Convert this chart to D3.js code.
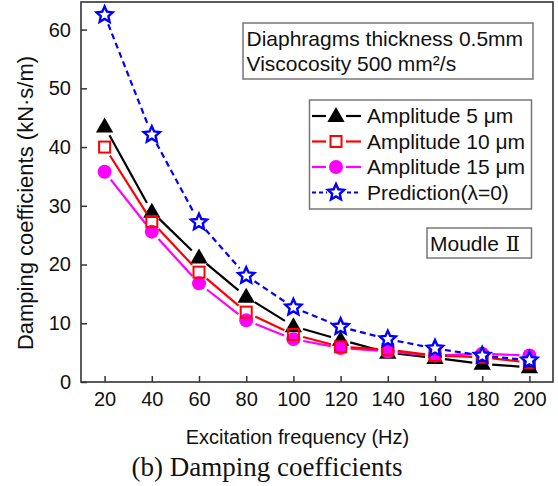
<!DOCTYPE html>
<html><head><meta charset="utf-8">
<script src="https://cdn.jsdelivr.net/npm/d3@7"></script>
<style>body{margin:0;background:#fff}svg{display:block}text{font-family:"Liberation Sans",Arial,sans-serif}</style>
</head><body>
<svg id="c" width="558" height="486"></svg>
<script>
const freq = [20, 40, 60, 80, 100, 120, 140, 160, 180, 200];
const amp5 = [43.5, 29.0, 21.2, 14.5, 9.5, 7.2, 5.0, 4.1, 3.1, 2.5];
const amp10 = [40.0, 27.3, 18.7, 11.9, 8.1, 6.0, 5.5, 4.5, 4.2, 3.3];
const amp15 = [35.8, 25.6, 16.8, 10.5, 7.3, 5.8, 5.2, 4.5, 4.8, 4.5];
const pred = [62.5, 42.1, 27.2, 18.1, 12.7, 9.4, 7.3, 5.7, 4.5, 3.7];
const xTicks = [20, 40, 60, 80, 100, 120, 140, 160, 180, 200];
const yTicks = [0, 10, 20, 30, 40, 50, 60];
const seriesNames = ["Amplitude 5 μm", "Amplitude 10 μm", "Amplitude 15 μm", "Prediction(λ=0)"];

const svg = d3.select("#c");
const L = 81, R = 553, T = 2, B = 382;
const x = d3.scaleLinear().domain([10, 210]).range([L, R]);
const y = d3.scaleLinear().domain([0, 64.7]).range([B, T]);

const series = [
  {name: seriesNames[0], vals: amp5, color: "#000", marker: "tri", dash: null},
  {name: seriesNames[1], vals: amp10, color: "#ff0000", marker: "sq", dash: null},
  {name: seriesNames[2], vals: amp15, color: "#ff00ff", marker: "circ", dash: null},
  {name: seriesNames[3], vals: pred, color: "#0000ff", marker: "star", dash: "6,4"}
];

function starPath(r1, r2) {
  const pts = [];
  for (let i = 0; i < 10; i++) {
    const a = -Math.PI / 2 + i * Math.PI / 5;
    const r = i % 2 ? r2 : r1;
    pts.push([r * Math.cos(a), r * Math.sin(a)]);
  }
  return "M" + pts.map(p => p.join(",")).join("L") + "Z";
}
function drawMarker(g, type, color, cx, cy) {
  if (type === "tri") {
    g.append("path").attr("d", d3.symbol(d3.symbolTriangle, 130)()).attr("transform", `translate(${cx},${cy + 1})`).attr("fill", color);
  } else if (type === "sq") {
    g.append("rect").attr("x", cx - 5.5).attr("y", cy - 5.5).attr("width", 11).attr("height", 11).attr("fill", "none").attr("stroke", color).attr("stroke-width", 2);
  } else if (type === "circ") {
    g.append("circle").attr("cx", cx).attr("cy", cy).attr("r", 7).attr("fill", color);
  } else {
    g.append("path").attr("d", starPath(8.5, 4)).attr("transform", `translate(${cx},${cy})`).attr("fill", "#fff").attr("stroke", color).attr("stroke-width", 2.4).attr("stroke-linejoin", "miter");
  }
}

// axes frame
const gx = svg.append("g").attr("transform", `translate(0,${B})`)
  .call(d3.axisBottom(x).tickValues(xTicks).tickSize(-6).tickPadding(10));
const gy = svg.append("g").attr("transform", `translate(${L},0)`)
  .call(d3.axisLeft(y).tickValues(yTicks).tickSize(-6).tickPadding(10));
[gx, gy].forEach(g => {
  g.select(".domain").remove();
  g.selectAll(".tick line").attr("stroke", "#333").attr("stroke-width", 1.5);
  g.selectAll(".tick text").attr("font-size", 20).attr("fill", "#111").style("font-family", "Liberation Sans, Arial, sans-serif");
});
svg.append("rect").attr("x", L).attr("y", T).attr("width", R - L).attr("height", B - T)
  .attr("fill", "none").attr("stroke", "#333").attr("stroke-width", 1.6);

// series: draw order black, magenta, red, blue
const order = [0, 2, 1, 3];
const gap = 10;
order.forEach(i => {
  const s = series[i];
  const g = svg.append("g");
  for (let k = 0; k < freq.length - 1; k++) {
    const x1 = x(freq[k]), y1 = y(s.vals[k]), x2 = x(freq[k + 1]), y2 = y(s.vals[k + 1]);
    const len = Math.hypot(x2 - x1, y2 - y1);
    const ux = (x2 - x1) / len, uy = (y2 - y1) / len;
    const g2 = Math.min(gap, len / 2 - 1);
    g.append("line").attr("x1", x1 + ux * g2).attr("y1", y1 + uy * g2)
      .attr("x2", x2 - ux * g2).attr("y2", y2 - uy * g2)
      .attr("stroke", s.color).attr("stroke-width", 2.2)
      .attr("stroke-dasharray", s.dash);
  }
  freq.forEach((f, k) => drawMarker(g, s.marker, s.color, x(f), y(s.vals[k])));
});

// info box
svg.append("rect").attr("x", 243).attr("y", 23).attr("width", 290).attr("height", 56)
  .attr("fill", "#fff").attr("stroke", "#777").attr("stroke-width", 1.5);
svg.append("text").attr("x", 246.5).attr("y", 46).attr("font-size", 21).attr("fill", "#111").text("Diaphragms thickness 0.5mm");
svg.append("text").attr("x", 246.5).attr("y", 71).attr("font-size", 21).attr("fill", "#111").text("Viscocosity 500 mm²/s");

// legend
const lg = svg.append("g");
lg.append("rect").attr("x", 309.5).attr("y", 100).attr("width", 222).attr("height", 109)
  .attr("fill", "#fff").attr("stroke", "#777").attr("stroke-width", 1.5);
const rowY = [116, 141.5, 167, 192.5];
series.forEach((s, i) => {
  const cy = rowY[i];
  if (s.dash) {
    lg.append("line").attr("x1", 312).attr("x2", 361).attr("y1", cy).attr("y2", cy)
      .attr("stroke", s.color).attr("stroke-width", 2.2).attr("stroke-dasharray", "4,3");
    lg.append("rect").attr("x", 327).attr("y", cy - 9).attr("width", 18).attr("height", 18).attr("fill", "#fff");
  } else {
    lg.append("line").attr("x1", 312).attr("x2", 326).attr("y1", cy).attr("y2", cy).attr("stroke", s.color).attr("stroke-width", 2.2);
    lg.append("line").attr("x1", 346).attr("x2", 361).attr("y1", cy).attr("y2", cy).attr("stroke", s.color).attr("stroke-width", 2.2);
  }
  drawMarker(lg, s.marker, s.color, 336, cy);
  lg.append("text").attr("x", 367).attr("y", cy + 7).attr("font-size", 21).attr("fill", "#111").text(s.name);
});

// Moudle box
svg.append("rect").attr("x", 427).attr("y", 228).attr("width", 104.5).attr("height", 30)
  .attr("fill", "#fff").attr("stroke", "#777").attr("stroke-width", 1.5);
svg.append("text").attr("x", 430).attr("y", 251).attr("font-size", 21).attr("fill", "#111").text("Moudle");
svg.append("text").attr("x", 513).attr("y", 251).attr("text-anchor", "middle").attr("font-size", 21).attr("fill", "#111")
  .style("font-family", "'DejaVu Serif','Liberation Serif',serif").text("Ⅱ");

// axis titles
svg.append("text").attr("transform", "translate(33,203) rotate(-90)").attr("text-anchor", "middle")
  .attr("font-size", 22).attr("fill", "#111").text("Damping coefficients (kN·s/m)");
svg.append("text").attr("x", 297.5).attr("y", 443.5).attr("text-anchor", "middle")
  .attr("font-size", 20).attr("fill", "#111").text("Excitation frequency (Hz)");
svg.append("text").attr("x", 267).attr("y", 476).attr("text-anchor", "middle")
  .attr("font-size", 27).attr("fill", "#111").style("font-family", "Liberation Serif, Times New Roman, serif").text("(b) Damping coefficients");
</script>
</body></html>
